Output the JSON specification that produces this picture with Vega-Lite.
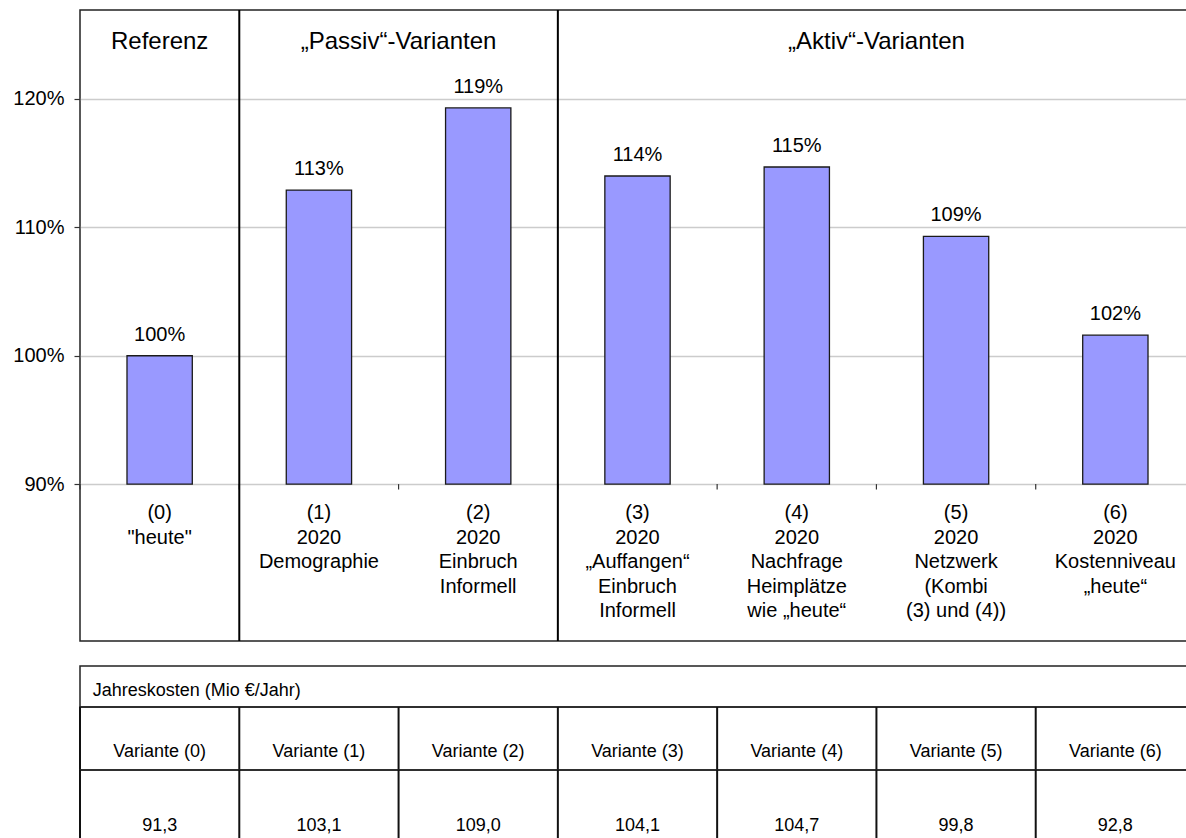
{
  "$schema": "https://vega.github.io/schema/vega-lite/v6.json",
  "padding": {"left": 12, "top": 8, "right": 0, "bottom": 0},
  "background": "white",
  "config": {
    "font": "Liberation Sans",
    "locale": {"number": {"decimal": ",", "thousands": ".", "grouping": [3], "currency": ["", " €"]}},
    "view": {"stroke": "#222222", "strokeWidth": 1.5},
    "text": {"color": "#000000"}
  },
  "datasets": {
    "variants": [
      {"id": "0", "ratio": 1.000, "label": "(0)\n\"heute\"", "name": "Variante (0)", "cost": 91.3},
      {"id": "1", "ratio": 1.129, "label": "(1)\n2020\nDemographie", "name": "Variante (1)", "cost": 103.1},
      {"id": "2", "ratio": 1.193, "label": "(2)\n2020\nEinbruch\nInformell", "name": "Variante (2)", "cost": 109.0},
      {"id": "3", "ratio": 1.140, "label": "(3)\n2020\n„Auffangen“\nEinbruch\nInformell", "name": "Variante (3)", "cost": 104.1},
      {"id": "4", "ratio": 1.147, "label": "(4)\n2020\nNachfrage\nHeimplätze\nwie „heute“", "name": "Variante (4)", "cost": 104.7},
      {"id": "5", "ratio": 1.093, "label": "(5)\n2020\nNetzwerk\n(Kombi\n(3) und (4))", "name": "Variante (5)", "cost": 99.8},
      {"id": "6", "ratio": 1.016, "label": "(6)\n2020\nKostenniveau\n„heute“", "name": "Variante (6)", "cost": 92.8}
    ],
    "separators": [{"at": "1"}, {"at": "3"}],
    "groupsCentered": [{"title": "Referenz", "at": "0"}],
    "groupsEdge": [{"title": "„Passiv“-Varianten", "at": "2"}, {"title": "„Aktiv“-Varianten", "at": "5"}],
    "tableHeader": [{"title": "Jahreskosten (Mio €/Jahr)", "at": "0"}]
  },
  "spacing": 25,
  "bounds": "flush",
  "vconcat": [
    {
      "width": 1115,
      "height": 631,
      "layer": [
        {
          "data": {"name": "variants"},
          "mark": {"type": "bar", "width": {"band": 0.41}, "fill": "#9999ff", "stroke": "#1a1a1a", "strokeWidth": 1.3},
          "encoding": {
            "x": {"field": "id", "type": "nominal", "scale": {"domain": ["0", "1", "2", "3", "4", "5", "6"], "paddingInner": 0, "paddingOuter": 0}, "axis": null},
            "y": {
              "field": "ratio", "type": "quantitative",
              "scale": {"domain": [0.7778, 1.2693], "nice": false, "zero": false},
              "axis": {
                "title": null, "values": [0.9, 1.0, 1.1, 1.2], "format": ".0%",
                "labelFontSize": 20, "labelColor": "#000000", "labelPadding": 10,
                "tickSize": 6, "tickColor": "#333333", "tickWidth": 1.2,
                "domain": false, "grid": true, "gridColor": "#cccccc", "gridWidth": 1.5
              }
            },
            "y2": {"datum": 0.9}
          }
        },
        {
          "mark": {"type": "rule", "color": "#333333", "strokeWidth": 1.5},
          "encoding": {"y": {"datum": 0.9, "type": "quantitative"}}
        },
        {
          "data": {"name": "variants"},
          "mark": {"type": "rule", "color": "#333333", "strokeWidth": 1.2},
          "encoding": {
            "x": {"field": "id", "type": "nominal", "bandPosition": 0, "axis": null},
            "y": {"datum": 0.9, "type": "quantitative"},
            "y2": {"datum": 0.8958}
          }
        },
        {
          "data": {"name": "separators"},
          "mark": {"type": "rule", "color": "#000000", "strokeWidth": 2},
          "encoding": {
            "x": {"field": "at", "type": "nominal", "bandPosition": 0, "axis": null}
          }
        },
        {
          "data": {"name": "groupsCentered"},
          "mark": {"type": "text", "fontSize": 24, "baseline": "middle", "align": "center"},
          "encoding": {
            "x": {"field": "at", "type": "nominal", "axis": null},
            "y": {"datum": 1.2445, "type": "quantitative"},
            "text": {"field": "title"}
          }
        },
        {
          "data": {"name": "groupsEdge"},
          "mark": {"type": "text", "fontSize": 24, "baseline": "middle", "align": "center"},
          "encoding": {
            "x": {"field": "at", "type": "nominal", "bandPosition": 0, "axis": null},
            "y": {"datum": 1.2445, "type": "quantitative"},
            "text": {"field": "title"}
          }
        },
        {
          "data": {"name": "variants"},
          "mark": {"type": "text", "fontSize": 20, "baseline": "alphabetic", "align": "center", "dy": -15},
          "encoding": {
            "x": {"field": "id", "type": "nominal", "axis": null},
            "y": {"field": "ratio", "type": "quantitative"},
            "text": {"field": "ratio", "type": "quantitative", "format": ".0%"}
          }
        },
        {
          "data": {"name": "variants"},
          "mark": {"type": "text", "fontSize": 20, "baseline": "top", "align": "center", "dy": 19, "lineBreak": "\n", "lineHeight": 24.5},
          "encoding": {
            "x": {"field": "id", "type": "nominal", "axis": null},
            "y": {"datum": 0.9, "type": "quantitative"},
            "text": {"field": "label", "type": "nominal"}
          }
        }
      ]
    },
    {
      "spacing": 0,
      "bounds": "flush",
      "vconcat": [
        {
          "width": 1115,
          "height": 41,
          "data": {"name": "tableHeader"},
          "mark": {"type": "text", "fontSize": 18, "align": "left", "baseline": "middle", "dx": -67, "dy": 4},
          "encoding": {
            "x": {"field": "at", "type": "nominal", "scale": {"domain": ["0", "1", "2", "3", "4", "5", "6"], "paddingInner": 0, "paddingOuter": 0}, "axis": null},
            "text": {"field": "title"}
          }
        },
        {
          "width": 1115,
          "height": 63,
          "data": {"name": "variants"},
          "encoding": {
            "x": {"field": "id", "type": "nominal", "scale": {"domain": ["0", "1", "2", "3", "4", "5", "6"], "paddingInner": 0, "paddingOuter": 0}, "axis": null}
          },
          "layer": [
            {
              "mark": {"type": "rule", "color": "#111111", "strokeWidth": 2},
              "encoding": {"x": {"field": "id", "type": "nominal", "bandPosition": 0, "axis": null}}
            },
            {
              "mark": {"type": "text", "fontSize": 18, "align": "center", "baseline": "middle", "dy": 13.5},
              "encoding": {"text": {"field": "name"}}
            }
          ]
        },
        {
          "width": 1115,
          "height": 74,
          "data": {"name": "variants"},
          "encoding": {
            "x": {"field": "id", "type": "nominal", "scale": {"domain": ["0", "1", "2", "3", "4", "5", "6"], "paddingInner": 0, "paddingOuter": 0}, "axis": null}
          },
          "layer": [
            {
              "mark": {"type": "rule", "color": "#111111", "strokeWidth": 2},
              "encoding": {"x": {"field": "id", "type": "nominal", "bandPosition": 0, "axis": null}}
            },
            {
              "mark": {"type": "text", "fontSize": 18, "align": "center", "baseline": "middle", "dy": 19},
              "encoding": {"text": {"field": "cost", "type": "quantitative", "format": ".1f"}}
            }
          ]
        }
      ]
    }
  ]
}
